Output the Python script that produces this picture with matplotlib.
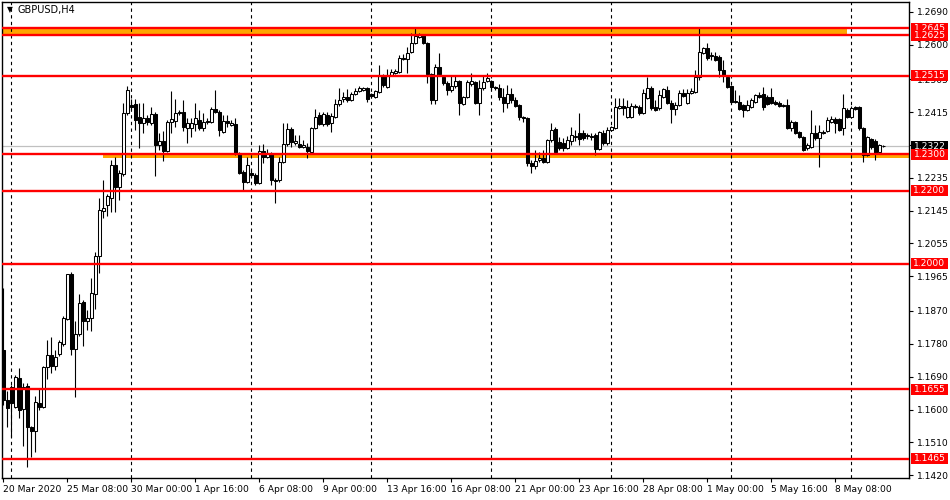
import numpy as np
import matplotlib
matplotlib.use("Agg")
import matplotlib.pyplot as plt
from matplotlib.transforms import blended_transform_factory
from matplotlib.patches import Rectangle

opens = [1.1763, 1.1626, 1.1662, 1.1607, 1.1686, 1.1601, 1.1664, 1.1552, 1.1541, 1.1618,
         1.1607, 1.1717, 1.1749, 1.1719, 1.1752, 1.1780, 1.1848, 1.1971, 1.1766, 1.1807,
         1.1895, 1.1843, 1.1851, 1.1917, 1.2021, 1.2144, 1.2160, 1.2180, 1.2270, 1.2210,
         1.2245, 1.2413, 1.2434, 1.2437, 1.2402, 1.2385, 1.2399, 1.2385, 1.2410, 1.2325,
         1.2336, 1.2308, 1.2388, 1.2391, 1.2415, 1.2415, 1.2371, 1.2371, 1.2382, 1.2393,
         1.2371, 1.2391, 1.2388, 1.2423, 1.2415, 1.2360, 1.2391, 1.2380, 1.2382, 1.2303,
         1.2251, 1.2223, 1.2248, 1.2243, 1.2221, 1.2308, 1.2292, 1.2300, 1.2229, 1.2229,
         1.2278, 1.2328, 1.2369, 1.2330, 1.2328, 1.2319, 1.2319, 1.2306, 1.2371, 1.2407,
         1.2382, 1.2407, 1.2385, 1.2402, 1.2437, 1.2451, 1.2456, 1.2448, 1.2465, 1.2473,
         1.2476, 1.2481, 1.2465, 1.2456, 1.2470, 1.2514, 1.2484, 1.2517, 1.2522, 1.2525,
         1.2563, 1.2560, 1.2580, 1.2604, 1.2621, 1.2626, 1.2604, 1.2519, 1.2448, 1.2539,
         1.2511, 1.2495, 1.2476, 1.2486, 1.2500, 1.2437, 1.2456, 1.2492, 1.2497, 1.2440,
         1.2481, 1.2500, 1.2500, 1.2484, 1.2481, 1.2456, 1.2440, 1.2465, 1.2448, 1.2434,
         1.2402, 1.2399, 1.2276, 1.2267, 1.2284, 1.2289, 1.2278, 1.2339, 1.2369, 1.2333,
         1.2330, 1.2317, 1.2336, 1.2347, 1.2358, 1.2358, 1.2352, 1.2350, 1.2352, 1.2314,
         1.2358, 1.2330, 1.2366, 1.2371, 1.2426, 1.2432, 1.2402, 1.2402, 1.2429, 1.2429,
         1.2413, 1.2454, 1.2481, 1.2429, 1.2426, 1.2456, 1.2476, 1.2440, 1.2423, 1.2434,
         1.2467, 1.2440, 1.2467, 1.2470, 1.2511, 1.2577, 1.2591, 1.2569, 1.2569, 1.2566,
         1.2530, 1.2511, 1.2486, 1.2445, 1.2443, 1.2434, 1.2421, 1.2429, 1.2443, 1.2462,
         1.2465, 1.2456, 1.2456, 1.2443, 1.2440, 1.2434, 1.2434, 1.2371, 1.2388, 1.2360,
         1.2347, 1.2317, 1.2319, 1.2358, 1.2344, 1.2358, 1.2363, 1.2388, 1.2396, 1.2396,
         1.2371, 1.2421, 1.2402, 1.2429, 1.2429, 1.2371, 1.2297, 1.2341, 1.2336, 1.2306,
         1.2322]

highs = [1.1933, 1.1651, 1.1667, 1.1695, 1.1714, 1.1673, 1.1673, 1.1555, 1.1637, 1.1656,
         1.1719, 1.1791, 1.1799, 1.1763, 1.1791, 1.1856, 1.1971, 1.1976, 1.1843, 1.1917,
         1.1900, 1.1873, 1.1960, 1.2032, 1.2180, 1.2229, 1.2191, 1.2284, 1.2292, 1.2256,
         1.2440, 1.2486, 1.2451, 1.2451, 1.2440, 1.2440, 1.2407, 1.2429, 1.2415, 1.2358,
         1.2363, 1.2393, 1.2473, 1.2451, 1.2421, 1.2448, 1.2399, 1.2399, 1.2440, 1.2421,
         1.2413, 1.2399, 1.2429, 1.2476, 1.2421, 1.2407, 1.2407, 1.2393, 1.2399, 1.2306,
         1.2256, 1.2292, 1.2256, 1.2248, 1.2325, 1.2328, 1.2314, 1.2306, 1.2234, 1.2292,
         1.2385, 1.2385, 1.2374, 1.2352, 1.2352, 1.2339, 1.2330, 1.2374, 1.2423, 1.2415,
         1.2415, 1.2415, 1.2413, 1.2451, 1.2481, 1.2470, 1.2478, 1.2470, 1.2481, 1.2486,
         1.2484, 1.2484, 1.2467, 1.2476, 1.2544, 1.2519, 1.2533, 1.2533, 1.2533, 1.2571,
         1.2574, 1.2593, 1.2632, 1.2648, 1.2632, 1.2629, 1.2607, 1.2522, 1.2547, 1.2577,
         1.2517, 1.2500, 1.2514, 1.2517, 1.2503, 1.2459, 1.2503, 1.2522, 1.2500, 1.2503,
         1.2514, 1.2522, 1.2503, 1.2486, 1.2492, 1.2481, 1.2489, 1.2481, 1.2456, 1.2437,
         1.2404, 1.2402, 1.2284, 1.2311, 1.2306, 1.2311, 1.2341, 1.2385, 1.2374, 1.2347,
         1.2344, 1.2350, 1.2374, 1.2366, 1.2413, 1.2366, 1.2358, 1.2358, 1.2358, 1.2363,
         1.2366, 1.2374, 1.2377, 1.2454, 1.2454, 1.2454, 1.2448, 1.2440, 1.2437, 1.2434,
         1.2478, 1.2511, 1.2486, 1.2448, 1.2476, 1.2481, 1.2486, 1.2448, 1.2443, 1.2476,
         1.2478, 1.2478, 1.2481, 1.2530, 1.2645, 1.2593, 1.2604, 1.2580, 1.2580, 1.2571,
         1.2558, 1.2514, 1.2489, 1.2476, 1.2462, 1.2437, 1.2448, 1.2454, 1.2465, 1.2470,
         1.2484, 1.2462, 1.2481, 1.2448, 1.2445, 1.2437, 1.2451, 1.2393, 1.2391, 1.2363,
         1.2350, 1.2330, 1.2421, 1.2380, 1.2380, 1.2366, 1.2402, 1.2404, 1.2402, 1.2399,
         1.2465, 1.2426, 1.2432, 1.2432, 1.2432, 1.2374, 1.2350, 1.2344, 1.2341, 1.2328,
         1.2325]

lows = [1.1612, 1.1552, 1.1525, 1.1604, 1.1577, 1.1500, 1.1443, 1.1470, 1.1484, 1.1599,
        1.1604, 1.1684, 1.1700, 1.1708, 1.1747, 1.1774, 1.1845, 1.1749, 1.1634, 1.1801,
        1.1774, 1.1818, 1.1815, 1.1875, 1.1974, 1.2125, 1.2130, 1.2141, 1.2141, 1.2174,
        1.2240, 1.2407, 1.2421, 1.2366, 1.2317, 1.2358, 1.2380, 1.2380, 1.2240, 1.2311,
        1.2281, 1.2306, 1.2358, 1.2374, 1.2407, 1.2363, 1.2330, 1.2347, 1.2363, 1.2366,
        1.2363, 1.2382, 1.2385, 1.2413, 1.2350, 1.2358, 1.2374, 1.2377, 1.2297, 1.2245,
        1.2202, 1.2221, 1.2237, 1.2215, 1.2218, 1.2276, 1.2289, 1.2215, 1.2166, 1.2223,
        1.2276, 1.2322, 1.2319, 1.2325, 1.2317, 1.2317, 1.2289, 1.2303, 1.2369, 1.2380,
        1.2377, 1.2377, 1.2360, 1.2399, 1.2432, 1.2443, 1.2443, 1.2445, 1.2462, 1.2470,
        1.2473, 1.2443, 1.2454, 1.2454, 1.2467, 1.2484, 1.2481, 1.2514, 1.2519, 1.2522,
        1.2558, 1.2522, 1.2577, 1.2602, 1.2618, 1.2602, 1.2495, 1.2437, 1.2437, 1.2514,
        1.2489, 1.2462, 1.2470, 1.2481, 1.2407, 1.2434, 1.2454, 1.2486, 1.2437, 1.2407,
        1.2476, 1.2497, 1.2476, 1.2476, 1.2448, 1.2415, 1.2426, 1.2440, 1.2429, 1.2393,
        1.2388, 1.2267, 1.2248, 1.2259, 1.2278, 1.2276, 1.2276, 1.2333, 1.2300, 1.2311,
        1.2308, 1.2314, 1.2325, 1.2336, 1.2325, 1.2339, 1.2341, 1.2339, 1.2297, 1.2311,
        1.2325, 1.2325, 1.2363, 1.2369, 1.2423, 1.2407, 1.2399, 1.2399, 1.2426, 1.2407,
        1.2410, 1.2451, 1.2421, 1.2418, 1.2421, 1.2454, 1.2437, 1.2385, 1.2407, 1.2432,
        1.2456, 1.2437, 1.2465, 1.2467, 1.2503, 1.2574, 1.2558, 1.2558, 1.2555, 1.2511,
        1.2497, 1.2481, 1.2440, 1.2440, 1.2421, 1.2402, 1.2418, 1.2426, 1.2440, 1.2454,
        1.2421, 1.2434, 1.2437, 1.2434, 1.2429, 1.2429, 1.2369, 1.2363, 1.2355, 1.2344,
        1.2308, 1.2311, 1.2317, 1.2339, 1.2265, 1.2355, 1.2360, 1.2385, 1.2358, 1.2363,
        1.2352, 1.2399, 1.2399, 1.2421, 1.2366, 1.2278, 1.2295, 1.2314, 1.2284, 1.2303,
        1.2319]

closes = [1.1626, 1.1604, 1.1618, 1.1689, 1.1599, 1.1662, 1.1552, 1.1541, 1.1621, 1.1607,
          1.1717, 1.1749, 1.1719, 1.1744, 1.1785, 1.1851, 1.1971, 1.1766, 1.1807, 1.1892,
          1.1843, 1.1851, 1.1919, 1.2021, 1.2147, 1.2152, 1.2185, 1.2270, 1.2210, 1.2248,
          1.2413, 1.2476, 1.2429, 1.2393, 1.2385, 1.2399, 1.2388, 1.2410, 1.2325, 1.2336,
          1.2308, 1.2388, 1.2396, 1.2413, 1.2413, 1.2374, 1.2385, 1.2385, 1.2399, 1.2371,
          1.2388, 1.2388, 1.2423, 1.2415, 1.2366, 1.2391, 1.2385, 1.2385, 1.2303, 1.2248,
          1.2223, 1.2270, 1.2243, 1.2221, 1.2308, 1.2292, 1.2303, 1.2229, 1.2226, 1.2278,
          1.2328, 1.2369, 1.2333, 1.2336, 1.2319, 1.2325, 1.2308, 1.2371, 1.2402, 1.2382,
          1.2410, 1.2382, 1.2404, 1.2437, 1.2448, 1.2456, 1.2448, 1.2465, 1.2473, 1.2481,
          1.2481, 1.2451, 1.2459, 1.2473, 1.2514, 1.2489, 1.2514, 1.2525, 1.2528, 1.2563,
          1.2560, 1.2577, 1.2604, 1.2623, 1.2626, 1.2604, 1.2519, 1.2448, 1.2539, 1.2519,
          1.2495, 1.2476, 1.2486, 1.2500, 1.2440, 1.2456, 1.2497, 1.2500, 1.2440, 1.2481,
          1.2497, 1.2508, 1.2484, 1.2481, 1.2456, 1.2440, 1.2465, 1.2448, 1.2432, 1.2402,
          1.2399, 1.2276, 1.2267, 1.2281, 1.2289, 1.2278, 1.2339, 1.2366, 1.2306, 1.2317,
          1.2317, 1.2339, 1.2352, 1.2350, 1.2341, 1.2344, 1.2350, 1.2347, 1.2314, 1.2360,
          1.2330, 1.2366, 1.2374, 1.2429, 1.2432, 1.2426, 1.2429, 1.2432, 1.2432, 1.2413,
          1.2467, 1.2481, 1.2426, 1.2421, 1.2462, 1.2478, 1.2440, 1.2423, 1.2434, 1.2467,
          1.2459, 1.2467, 1.2473, 1.2511, 1.2580, 1.2591, 1.2563, 1.2571, 1.2558, 1.2530,
          1.2517, 1.2484, 1.2443, 1.2443, 1.2423, 1.2421, 1.2434, 1.2448, 1.2462, 1.2456,
          1.2429, 1.2437, 1.2440, 1.2437, 1.2432, 1.2432, 1.2371, 1.2388, 1.2358, 1.2347,
          1.2311, 1.2325, 1.2358, 1.2344, 1.2360, 1.2360, 1.2393, 1.2396, 1.2385, 1.2366,
          1.2426, 1.2402, 1.2426, 1.2423, 1.2371, 1.2297, 1.2347, 1.2319, 1.2303, 1.2325,
          1.2322]

levels = [1.2645, 1.2625, 1.2515, 1.2300, 1.2200, 1.2000, 1.1655, 1.1465]
level_labels = ["1.2645", "1.2625", "1.2515", "1.2300", "1.2200", "1.2000", "1.1655", "1.1465"]
zone_top = (1.2625, 1.2645)
zone_bottom = (1.2288, 1.2300)

y_ticks = [1.2690, 1.2600, 1.2505, 1.2415, 1.2325, 1.2235, 1.2145, 1.2055,
           1.1965, 1.1870, 1.1780, 1.1690, 1.1600, 1.1510, 1.1420]
x_tick_bars = [0, 16, 32, 48, 64, 80, 96, 112, 128, 144, 160, 176, 192, 208]
x_tick_labels = ["20 Mar 2020", "25 Mar 08:00", "30 Mar 00:00", "1 Apr 16:00", "6 Apr 08:00",
                 "9 Apr 00:00", "13 Apr 16:00", "16 Apr 08:00", "21 Apr 00:00", "23 Apr 16:00",
                 "28 Apr 08:00", "1 May 00:00", "5 May 16:00", "8 May 08:00"]
grid_bars = [2, 32, 62, 92, 122, 152, 182, 212]
symbol = "GBPUSD,H4"

plt.rcParams['font.family'] = ['DejaVu Sans']
FS = 6.6

W, H = 950, 500
fig = plt.figure(figsize=(W / 100, H / 100), dpi=100)
fig.patch.set_facecolor('white')
ax = fig.add_axes([2 / W, 22 / H, 907 / W, 476 / H])
ax.set_facecolor('white')

o = np.array(opens); h = np.array(highs); l = np.array(lows); c = np.array(closes)
x = np.arange(len(c))
xmin, xmax = -0.33, 226.4
ymin, ymax = 1.14124, 1.27166
ax.set_xlim(xmin, xmax)
ax.set_ylim(ymin, ymax)
px_price = (ymax - ymin) / 476.0

# zones (background)
ax.fill_between([xmin, 211], zone_top[0], zone_top[1], color='#FFA500', lw=0, zorder=1)
ax.fill_between([25, xmax], zone_bottom[0], zone_bottom[1], color='#FFA500', lw=0, zorder=1)

# bid line
ax.axhline(c[-1], color='#C0C0C0', lw=0.9, zorder=1.5)

# vertical grid
for b in grid_bars:
    ax.axvline(b, color='black', lw=0.8, ls=(0, (3, 3)), zorder=1.6)

# candles
ax.vlines(x, np.minimum(l, np.minimum(o, c)), np.maximum(h, np.maximum(o, c)),
          color='black', lw=0.8, zorder=3)
bottoms = np.minimum(o, c)
heights = np.abs(c - o)
fcs = ['white' if cc >= oo else 'black' for oo, cc in zip(o, c)]
ax.bar(x, heights, bottom=bottoms, width=0.7, color=fcs, edgecolor='black',
       linewidth=0.75, zorder=4)

# red levels
for lv in levels:
    ax.axhline(lv, color='#FF0000', lw=1.7, zorder=5)

# axes styling
for s in ax.spines.values():
    s.set_color('black')
    s.set_linewidth(1.0)
ax.yaxis.tick_right()
ax.set_yticks(y_ticks)
ax.set_yticklabels([f"{v:.4f}" for v in y_ticks])
ax.tick_params(axis='y', direction='out', length=3, width=0.8, pad=2.5, labelsize=FS, colors='black')
ax.set_xticks(x_tick_bars)
ax.set_xticklabels(x_tick_labels, ha='left')
ax.tick_params(axis='x', direction='out', length=3, width=0.8, pad=2, labelsize=FS, colors='black')

# price labels (boxes on the price scale)
tr = blended_transform_factory(ax.transAxes, ax.transData)
bx0 = (911 - 2) / 907.0
bw = 37 / 907.0
bh = 11 * px_price


def price_box(val, text, fc, z):
    ax.add_patch(Rectangle((bx0, val - bh / 2), bw, bh, transform=tr, fc=fc, ec='none',
                           clip_on=False, zorder=z))
    ax.text(bx0 + bw / 2, val, text, transform=tr, va='center', ha='center', color='white',
            fontsize=FS, clip_on=False, zorder=z + 0.1)


price_box(c[-1], f"{c[-1]:.4f}", 'black', 6)
for i, (lv, lab) in enumerate(zip(levels, level_labels)):
    price_box(lv, lab, '#FF0000', 7 + i * 0.2)

# title
fig.text(10 / W, 1 - 10 / H, "\u25BC", fontsize=5.5, ha='center', va='center', color='black')
fig.text(17 / W, 1 - 10 / H, symbol, fontsize=7, ha='left', va='center', color='black')

fig.savefig("out.png", dpi=100, facecolor='white')
